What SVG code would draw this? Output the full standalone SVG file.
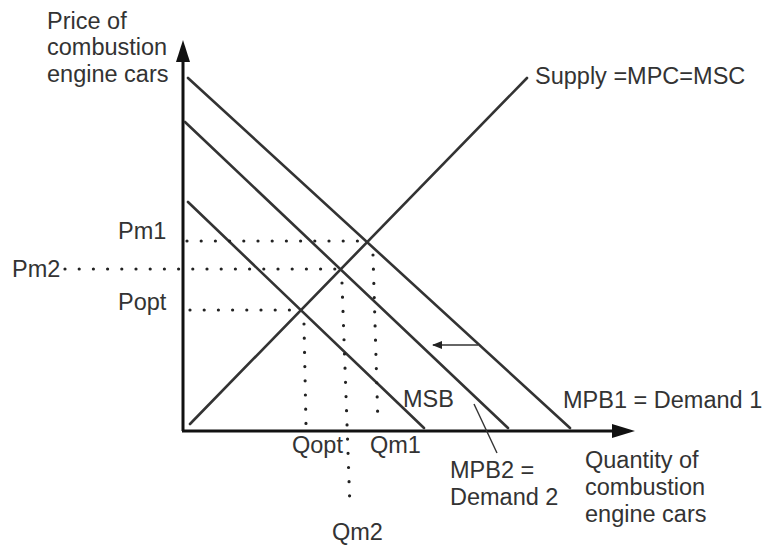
<svg xmlns="http://www.w3.org/2000/svg" width="762" height="545" viewBox="0 0 762 545">
<style>
text{font-family:"Liberation Sans",Arial,sans-serif;font-size:23.5px;fill:#333}
.ax{stroke:#111;stroke-width:3;fill:none}
.cv{stroke:#333;stroke-width:2.6;fill:none;stroke-linecap:round}
.dot{stroke:#222;stroke-width:3.2;stroke-linecap:round;stroke-dasharray:0 14.2;fill:none}
.thin{stroke:#333;stroke-width:1.4;fill:none}
</style>
<defs>
<marker id="ah" markerWidth="10" markerHeight="8" refX="9" refY="4" orient="auto" markerUnits="userSpaceOnUse">
<path d="M0,0 L10,4 L0,8 Z" fill="#222"/>
</marker>
</defs>
<rect width="762" height="545" fill="#fff"/>
<g id="axes">
<path class="ax" d="M183,431 V60"/>
<polygon points="183,40 176,62 190,62" fill="#111"/>
<path class="ax" d="M182,431 H615"/>
<polygon points="635,431 612,424 612,438" fill="#111"/>
</g>
<g id="connectors">
<path id="supply" class="cv" d="M190,424 L527,78"/>
<path id="mpb1" class="cv" d="M188,78 L570,428"/>
<path id="mpb2" class="cv" d="M185,122 L508,428"/>
<path id="msb" class="cv" d="M188,202 L424,428"/>
<path class="dot" d="M187,241 H370"/>
<path class="dot" d="M65,269 H342"/>
<path class="dot" d="M190,310 H302"/>
<path class="dot" d="M304,324 L306,425"/>
<path class="dot" d="M342,283 L350,508"/>
<path class="dot" d="M373,255 L378,425"/>
<path class="thin" d="M474,404 L497,453"/>
<path class="thin" d="M478,345 H433" marker-end="url(#ah)"/>
</g>
<g id="labels">
<text x="47" y="29">Price of</text>
<text x="47" y="55">combustion</text>
<text x="47" y="82">engine cars</text>
<text x="535" y="84">Supply =MPC=MSC</text>
<text x="118" y="239">Pm1</text>
<text x="12" y="277">Pm2</text>
<text x="118" y="310">Popt</text>
<text x="292" y="453">Qopt</text>
<text x="370" y="453">Qm1</text>
<text x="332" y="540">Qm2</text>
<text x="403" y="407">MSB</text>
<text x="563" y="408">MPB1 = Demand 1</text>
<text x="450" y="478">MPB2 =</text>
<text x="450" y="505">Demand 2</text>
<text x="585" y="468">Quantity of</text>
<text x="585" y="495">combustion</text>
<text x="585" y="522">engine cars</text>
</g>
</svg>
